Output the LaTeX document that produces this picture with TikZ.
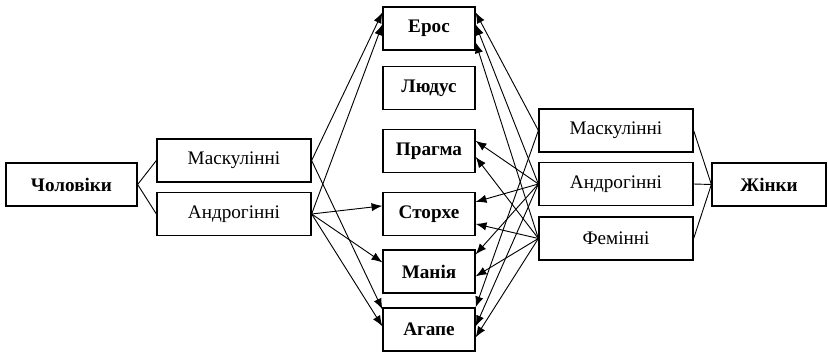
\documentclass[tikz,border=0pt]{standalone}
\usepackage{fontspec}
\setmainfont{Liberation Serif}
\usepackage{tikz}
\usetikzlibrary{arrows.meta}

\begin{document}
\begin{tikzpicture}[
            x=0.6pt, y=-0.6pt,
            font=\fontsize{11.5}{13}\selectfont,
            box node/.style={draw, line width=0.75pt, minimum height=25.8pt, inner sep=0pt},
            group node/.style={box node, minimum width=92.4pt},
            love node/.style={box node, minimum width=55.2pt, font=\fontsize{11.5}{13}\selectfont\bfseries},
            link/.style={line width=0.55pt},
            choice/.style={line width=0.55pt, -{Latex[length=6.5pt,width=5pt]}},
            ]
            \useasboundingbox (0,0) rectangle (828,352);

            \node[box node, minimum width=78.6pt, font=\fontsize{11.5}{13}\selectfont\bfseries] (men) at (71.5,184.5) {Чоловіки};
            \node[group node] (mascL) at (234,160.5) {Маскулінні};
            \node[group node] (androL) at (234,214) {Андрогінні};

            \node[love node] (eros) at (429,28.5) {Ерос};
            \node[love node] (ludus) at (429,88) {Людус};
            \node[love node] (pragma) at (429,151) {Прагма};
            \node[love node] (storge) at (429,214) {Сторхе};
            \node[love node] (mania) at (429,271.5) {Манія};
            \node[love node] (agape) at (429,329.5) {Агапе};

            \node[group node] (mascR) at (616,130.5) {Маскулінні};
            \node[group node] (androR) at (616,184) {Андрогінні};
            \node[group node] (fem) at (616,238.5) {Фемінні};
            \node[box node, minimum width=68.4pt, font=\fontsize{11.5}{13}\selectfont\bfseries] (women) at (769,184.5) {Жінки};

            \draw[link] (men.east) -- (mascL.west);
            \draw[link] (men.east) -- (androL.west);
            \draw[link] (women.west) -- (mascR.east);
            \draw[link] (women.west) -- (androR.east);
            \draw[link] (women.west) -- (fem.east);

            % men
            \draw[choice] (mascL.east) -- ([yshift=-3.6pt]eros.north west);
            \draw[choice] (androL.east) -- ([yshift=-10.8pt]eros.north west);
            \draw[choice] (mascL.east) -- ([yshift=-1.2pt]agape.north west);
            \draw[choice] (androL.east) -- ([yshift=-8.4pt]storge.north west);
            \draw[choice] (androL.east) -- ([yshift=-7.8pt]mania.north west);
            \draw[choice] (androL.east) -- ([yshift=-11.4pt]agape.north west);

            % women
            \draw[choice] (mascR.west) -- ([yshift=-3.6pt]eros.north east);
            \draw[choice] (androR.west) -- ([yshift=-10.8pt]eros.north east);
            \draw[choice] (fem.west) -- ([yshift=-21.6pt]eros.north east);
            \draw[choice] (androR.west) -- ([yshift=-7.2pt]pragma.north east);
            \draw[choice] (fem.west) -- ([yshift=-16.8pt]pragma.north east);
            \draw[choice] (androR.west) -- ([yshift=-6pt]storge.north east);
            \draw[choice] (fem.west) -- ([yshift=-19.2pt]storge.north east);
            \draw[choice] (androR.west) -- ([yshift=-3pt]mania.north east);
            \draw[choice] (fem.west) -- ([yshift=-16.2pt]mania.north east);
            \draw[choice] (mascR.west) -- ([yshift=0pt]agape.north east);
            \draw[choice] (androR.west) -- ([yshift=-11.4pt]agape.north east);
            \draw[choice] (fem.west) -- ([yshift=-18pt]agape.north east);
        \end{tikzpicture}
\end{document}
